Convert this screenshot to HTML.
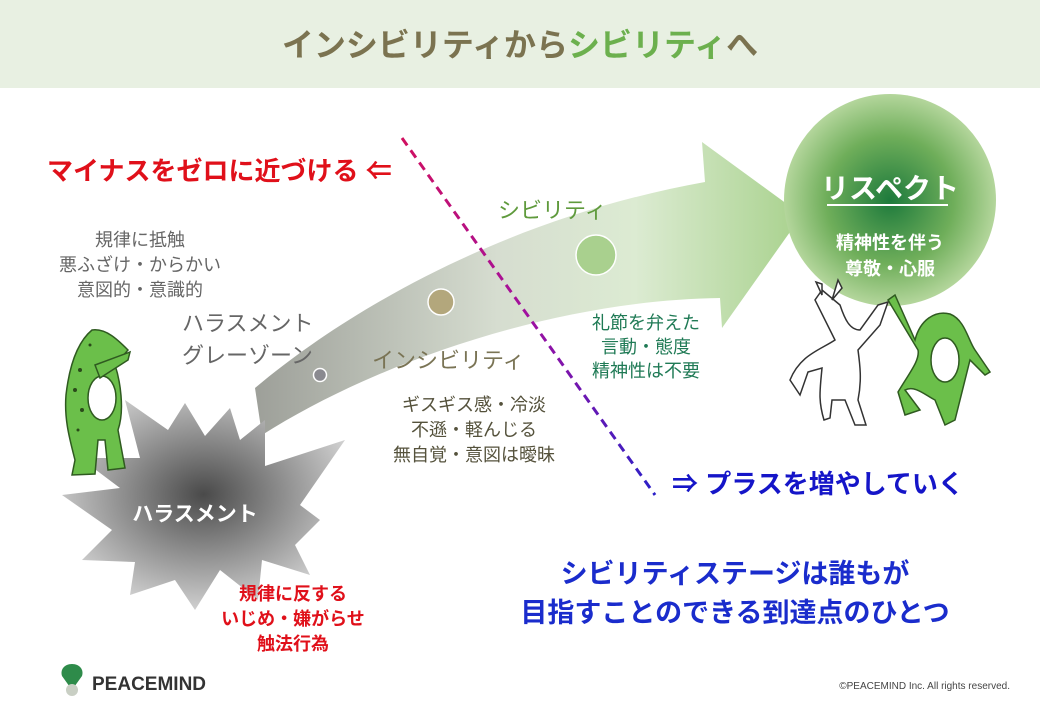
<!DOCTYPE html>
<html><head><meta charset="utf-8"><style>
html,body{margin:0;padding:0;background:#fff;}
svg{display:block;font-family:"Liberation Sans","Noto Sans CJK JP",sans-serif;}
</style></head><body>
<svg width="1040" height="720" viewBox="0 0 1040 720" xmlns="http://www.w3.org/2000/svg">
<defs>
<linearGradient id="arr" x1="250" y1="0" x2="800" y2="0" gradientUnits="userSpaceOnUse">
<stop offset="0" stop-color="#9c9e98"/><stop offset="0.45" stop-color="#d6ddd0"/><stop offset="0.7" stop-color="#dcebd2"/><stop offset="1" stop-color="#a9d28e"/>
</linearGradient>
<radialGradient id="star" cx="0.5" cy="0.45" r="0.55">
<stop offset="0" stop-color="#4a4a4a"/><stop offset="1" stop-color="#cfcfcf"/>
</radialGradient>
<radialGradient id="ball" cx="0.5" cy="0.5" r="0.5">
<stop offset="0" stop-color="#1d7a3c"/><stop offset="0.6" stop-color="#6fae5a"/><stop offset="1" stop-color="#b4d69c"/>
</radialGradient>
<linearGradient id="dash" x1="402" y1="138" x2="655" y2="495" gradientUnits="userSpaceOnUse">
<stop offset="0" stop-color="#d01060"/><stop offset="0.5" stop-color="#a010a0"/><stop offset="1" stop-color="#2a20c8"/>
</linearGradient>
</defs>
<rect x="0" y="0" width="1040" height="88" fill="#e8f0e2"/>
<text x="520" y="56" text-anchor="middle" font-size="32" font-weight="bold"><tspan fill="#7b7350">インシビリティから</tspan><tspan fill="#6cb04e">シビリティ</tspan><tspan fill="#7b7350">へ</tspan></text>

<path d="M255,388 C360,300 520,215 705,182 L702,142 L802,215 L722,328 L720,298 C560,300 380,360 262,435 Z" fill="url(#arr)"/>

<polygon fill="url(#star)" points="265,420 265,466 345,440 300,505 320,520 295,545 310,575 262,560 258,600 220,570 195,610 175,580 130,595 135,562 82,560 112,530 62,495 120,488 80,458 140,458 125,400 168,430 185,403 205,436 230,408 240,440" />
<text x="195" y="521" text-anchor="middle" font-size="21" font-weight="bold" fill="#fff">ハラスメント</text>

<circle cx="320" cy="375" r="6.5" fill="#8a8a90" stroke="#fff" stroke-width="1.5"/>
<circle cx="441" cy="302" r="13" fill="#b3a77c" stroke="#fff" stroke-width="1.5"/>
<circle cx="596" cy="255" r="20" fill="#a9d08e" stroke="#fff" stroke-width="1.5"/>

<line x1="402" y1="138" x2="655" y2="495" stroke="url(#dash)" stroke-width="3" stroke-dasharray="9,6"/>

<circle cx="890" cy="200" r="106" fill="url(#ball)"/>
<text x="890" y="198" text-anchor="middle" font-size="28" font-weight="bold" fill="#fff">リスペクト</text>
<line x1="827" y1="205" x2="948" y2="205" stroke="#fff" stroke-width="2"/>
<text x="890" y="249" text-anchor="middle" font-size="18" font-weight="bold" fill="#fff">精神性を伴う</text>
<text x="890" y="275" text-anchor="middle" font-size="18" font-weight="bold" fill="#fff">尊敬・心服</text>

<text x="47" y="180" font-size="26" font-weight="bold" fill="#e0101a">マイナスをゼロに近づける ⇐</text>
<g font-size="18" fill="#666" text-anchor="middle">
<text x="140" y="246">規律に抵触</text><text x="140" y="271">悪ふざけ・からかい</text><text x="140" y="296">意図的・意識的</text>
</g>
<text x="182" y="331" font-size="22" fill="#666">ハラスメント</text>
<text x="182" y="363" font-size="22" fill="#666">グレーゾーン</text>
<text x="372" y="368" font-size="22" fill="#7a7455">インシビリティ</text>
<g font-size="18" fill="#55523c" text-anchor="middle">
<text x="474" y="411">ギスギス感・冷淡</text><text x="474" y="436">不遜・軽んじる</text><text x="474" y="461">無自覚・意図は曖昧</text>
</g>
<text x="498" y="218" font-size="22" fill="#5f9a3c">シビリティ</text>
<g font-size="18" fill="#1f7a55" text-anchor="middle">
<text x="646" y="329">礼節を弁えた</text><text x="646" y="353">言動・態度</text><text x="646" y="377">精神性は不要</text>
</g>
<text x="672" y="493" font-size="26" font-weight="bold" fill="#1515c8">⇒ プラスを増やしていく</text>
<g font-size="27" font-weight="bold" fill="#1a2ccc" text-anchor="middle">
<text x="735" y="583">シビリティステージは誰もが</text><text x="735" y="622">目指すことのできる到達点のひとつ</text>
</g>
<g font-size="18" font-weight="bold" fill="#e0101a" text-anchor="middle">
<text x="293" y="600">規律に反する</text><text x="293" y="625">いじめ・嫌がらせ</text><text x="293" y="650">触法行為</text>
</g>

<g stroke="#2f5a20" stroke-width="1.5">
<path d="M92,330 C80,340 70,360 66,395 C64,420 70,440 75,460 L72,475 L95,474 L98,440 L105,440 L108,470 L125,468 L118,430 C125,410 120,380 115,365 L128,350 C118,340 106,328 92,330 Z" fill="#6bbf4a"/>
<ellipse cx="102" cy="398" rx="14" ry="22" fill="#fff"/>
<path d="M95,365 L130,352 L128,360 L100,378 Z" fill="#6bbf4a"/>
</g>
<g fill="#2a4a1a"><circle cx="80" cy="370" r="2"/><circle cx="75" cy="390" r="2"/><circle cx="82" cy="410" r="2"/><circle cx="78" cy="430" r="1.5"/><circle cx="90" cy="345" r="1.5"/></g>

<g stroke="#333" stroke-width="1.5" fill="#fff">
<path d="M822,290 L815,300 C825,320 830,330 835,340 C820,350 800,355 790,380 L800,395 L808,372 L822,368 C820,390 818,400 824,420 L830,418 L832,400 L845,400 L855,425 L866,425 L858,400 C862,380 860,365 858,350 L880,325 L888,302 L878,305 L860,330 C850,330 845,320 840,305 Z"/>
<path d="M822,295 L816,282 L822,284 Z M832,300 L838,280 L842,288 Z"/>
</g>
<g stroke="#2f5a20" stroke-width="1.5">
<path d="M888,300 L895,295 L915,340 C920,320 935,310 950,314 C965,320 968,340 975,350 L990,372 L985,375 L970,360 C965,380 960,400 955,420 L945,425 L935,400 C925,395 915,385 905,390 L920,410 L905,415 L898,392 C910,372 920,360 918,350 Z" fill="#6bbf4a"/>
<ellipse cx="945" cy="360" rx="14" ry="22" fill="#fff"/>
</g>

<path d="M72,664 C64,664 60,670 62,676 L72,690 L82,676 C84,670 80,664 72,664 Z" fill="#2e8b4a"/>
<circle cx="72" cy="690" r="6" fill="#c9cfc4"/>
<text x="92" y="690" font-size="19" font-weight="bold" fill="#333">PEACEMIND</text>
<text x="1010" y="689" font-size="10" fill="#444" text-anchor="end">©PEACEMIND Inc. All rights reserved.</text>
</svg>
</body></html>
